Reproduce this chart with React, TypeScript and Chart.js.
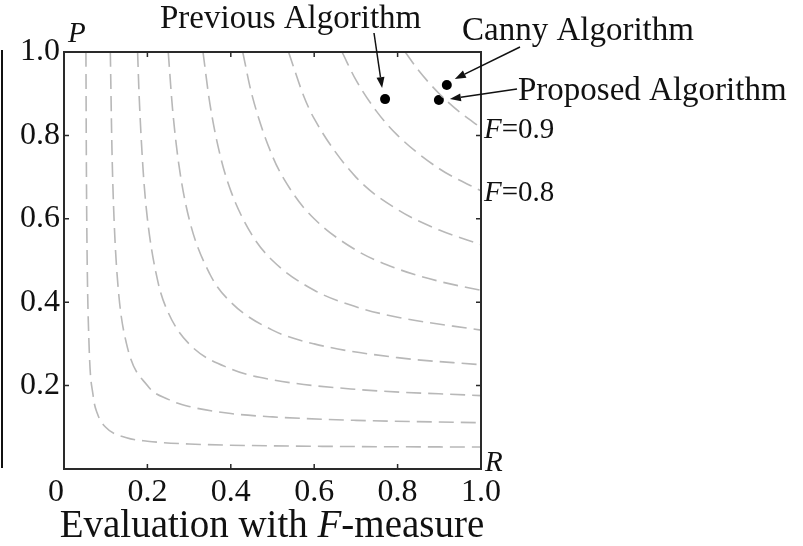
import React, { useEffect, useRef } from "react";
import { Chart, registerables } from "chart.js";

Chart.register(...registerables);

// Iso-F curves, points read as [recall, precision]
const isoF01 = [[0.0526, 1.0], [0.0535, 0.764], [0.055, 0.55], [0.06, 0.3], [0.07, 0.175], [0.08, 0.133], [0.1, 0.1], [0.15, 0.075], [0.2, 0.0667], [0.3, 0.06], [0.5, 0.0556], [0.7, 0.0538], [1.0, 0.0526]];
const isoF02 = [[0.1111, 1.0], [0.115, 0.767], [0.12, 0.6], [0.13, 0.433], [0.15, 0.3], [0.2, 0.2], [0.25, 0.167], [0.3, 0.15], [0.4, 0.133], [0.5, 0.125], [0.7, 0.1167], [1.0, 0.111]];
const isoF03 = [[0.1765, 1.0], [0.18, 0.9], [0.19, 0.7125], [0.2, 0.6], [0.225, 0.45], [0.25, 0.375], [0.3, 0.3], [0.4, 0.24], [0.5, 0.214], [0.7, 0.191], [1.0, 0.176]];
const isoF04 = [[0.25, 1.0], [0.26, 0.867], [0.275, 0.733], [0.3, 0.6], [0.35, 0.467], [0.4, 0.4], [0.5, 0.333], [0.6, 0.3], [0.8, 0.267], [1.0, 0.25]];
const isoF05 = [[0.3333, 1.0], [0.35, 0.875], [0.375, 0.75], [0.4, 0.667], [0.45, 0.5625], [0.5, 0.5], [0.6, 0.4286], [0.7, 0.389], [0.8, 0.364], [1.0, 0.333]];
const isoF06 = [[0.4286, 1.0], [0.45, 0.9], [0.5, 0.75], [0.55, 0.66], [0.6, 0.6], [0.7, 0.525], [0.8, 0.48], [0.9, 0.45], [1.0, 0.4286]];
const isoF07 = [[0.5385, 1.0], [0.575, 0.894], [0.6, 0.84], [0.7, 0.7], [0.8, 0.622], [0.9, 0.573], [1.0, 0.538]];
const isoF08 = [[0.6667, 1.0], [0.7, 0.933], [0.75, 0.857], [0.8, 0.8], [0.9, 0.72], [1.0, 0.667]];
const isoF09 = [[0.8182, 1.0], [0.85, 0.956], [0.9, 0.9], [0.95, 0.855], [1.0, 0.818]];
const isoCurves = [isoF01, isoF02, isoF03, isoF04, isoF05, isoF06, isoF07, isoF08, isoF09];

// Algorithms
const algoNames = ["Previous Algorithm", "Canny Algorithm", "Proposed Algorithm"];
const algoRecall = [0.77, 0.918, 0.899];
const algoPrecision = [0.887, 0.921, 0.885];

// Tick values
const tickValues = [0, 0.2, 0.4, 0.6, 0.8, 1.0];
const curveLabels = ["F=0.9", "F=0.8"];
const curveLabelValues = [0.818, 0.667];

const SERIF = '"Liberation Serif", "DejaVu Serif", serif';
const INK = "#111111";

const annotate = {
  id: "annotate",
  afterDatasetsDraw(chart: any) {
    const { ctx, chartArea: a, scales } = chart;
    const xs = scales.x, ys = scales.y;
    ctx.save();
    // frame
    ctx.strokeStyle = "#2a2a2a";
    ctx.lineWidth = 2;
    ctx.strokeRect(a.left, a.top, a.right - a.left, a.bottom - a.top);
    // inward ticks on all four sides
    ctx.lineWidth = 1.5;
    ctx.beginPath();
    tickValues.slice(1, -1).forEach((v) => {
      const px = xs.getPixelForValue(v);
      ctx.moveTo(px, a.bottom); ctx.lineTo(px, a.bottom - 5);
      ctx.moveTo(px, a.top); ctx.lineTo(px, a.top + 5);
      const py = ys.getPixelForValue(v);
      ctx.moveTo(a.left, py); ctx.lineTo(a.left + 5, py);
      ctx.moveTo(a.right, py); ctx.lineTo(a.right - 5, py);
    });
    ctx.stroke();
    ctx.restore();
  },
  afterDraw(chart: any) {
    const { ctx, chartArea: a, scales } = chart;
    const xs = scales.x, ys = scales.y;
    ctx.save();
    ctx.fillStyle = INK;
    ctx.strokeStyle = INK;

    // left cropped line
    ctx.lineWidth = 2;
    ctx.beginPath();
    ctx.moveTo(2, a.top - 2);
    ctx.lineTo(2, a.bottom - 1);
    ctx.stroke();

    // axis letters
    ctx.textBaseline = "alphabetic";
    ctx.textAlign = "left";
    ctx.font = `italic 29px ${SERIF}`;
    ctx.fillText("P", a.left + 4, a.top - 10);
    ctx.fillText("R", a.right + 4, a.bottom + 2);

    // F labels
    curveLabels.forEach((lab, i) => {
      const y = ys.getPixelForValue(curveLabelValues[i]) + 10;
      ctx.font = `italic 29px ${SERIF}`;
      ctx.fillText(lab.slice(0, 1), a.right + 3, y);
      const w = ctx.measureText(lab.slice(0, 1)).width;
      ctx.font = `29px ${SERIF}`;
      ctx.fillText(lab.slice(1), a.right + 3 + w, y);
    });

    // algorithm labels and arrows
    ctx.font = `33px ${SERIF}`;
    const labelPos = [[160, 28], [462, 40], [518, 100]];
    algoNames.forEach((n, i) => ctx.fillText(n, labelPos[i][0], labelPos[i][1]));

    const arrow = (x1: number, y1: number, x2: number, y2: number) => {
      const ang = Math.atan2(y2 - y1, x2 - x1);
      const hl = 11, hw = 4;
      const bx = x2 - hl * Math.cos(ang), by = y2 - hl * Math.sin(ang);
      ctx.lineWidth = 1.5;
      ctx.beginPath();
      ctx.moveTo(x1, y1);
      ctx.lineTo(bx, by);
      ctx.stroke();
      ctx.beginPath();
      ctx.moveTo(x2, y2);
      ctx.lineTo(bx + hw * Math.sin(ang), by - hw * Math.cos(ang));
      ctx.lineTo(bx - hw * Math.sin(ang), by + hw * Math.cos(ang));
      ctx.closePath();
      ctx.fill();
    };
    const px = (i: number) => xs.getPixelForValue(algoRecall[i]);
    const py = (i: number) => ys.getPixelForValue(algoPrecision[i]);
    arrow(374, 33, px(0) - 3, py(0) - 11);
    arrow(520, 47, px(1) + 8, py(1) - 6);
    arrow(517, 89, px(2) + 11, py(2) - 1);

    // x axis title with italic F
    const parts: [string, boolean][] = [["Evaluation with ", false], ["F", true], ["-measure", false]];
    const fs = 39;
    let total = 0;
    parts.forEach(([t, it]) => {
      ctx.font = `${it ? "italic " : ""}${fs}px ${SERIF}`;
      total += ctx.measureText(t).width;
    });
    let x = 272 - total / 2;
    parts.forEach(([t, it]) => {
      ctx.font = `${it ? "italic " : ""}${fs}px ${SERIF}`;
      ctx.fillText(t, x, 537);
      x += ctx.measureText(t).width;
    });
    ctx.restore();
  },
};

export default function App() {
  const ref = useRef<HTMLCanvasElement>(null);
  useEffect(() => {
    document.body.style.margin = "0";
    const datasets: any[] = isoCurves.map((c) => ({
      data: c.map(([r, p]) => ({ x: r, y: p })),
      showLine: true,
      borderColor: "#b8b8b8",
      borderWidth: 1.6,
      borderDash: [15, 7],
      pointRadius: 0,
      cubicInterpolationMode: "monotone",
      fill: false,
    }));
    datasets.push({
      data: algoRecall.map((r, i) => ({ x: r, y: algoPrecision[i] })),
      showLine: false,
      pointRadius: 5,
      pointBackgroundColor: "#000",
      pointBorderColor: "#000",
      pointBorderWidth: 0,
    });
    const chart = new Chart(ref.current as HTMLCanvasElement, {
      type: "scatter",
      data: { datasets },
      plugins: [annotate],
      options: {
        animation: false,
        responsive: true,
        maintainAspectRatio: false,
        layout: { padding: { top: 52, right: 322, left: 0, bottom: 0 } },
        plugins: { legend: { display: false }, tooltip: { enabled: false } },
        scales: {
          x: {
            type: "linear",
            min: 0,
            max: 1,
            afterFit: (s: any) => { s.height = 77; },
            afterBuildTicks: (s: any) => { s.ticks = tickValues.map((v) => ({ value: v })); },
            grid: { display: false, drawTicks: false },
            border: { display: false },
            ticks: {
              autoSkip: false,
              maxRotation: 0,
              padding: 4,
              color: INK,
              font: { family: SERIF, size: 32 },
              callback: (v: any) => (Number(v) === 0 ? "0  " : Number(v).toFixed(1)),
            },
          },
          y: {
            type: "linear",
            min: 0,
            max: 1,
            afterFit: (s: any) => { s.width = 64; },
            afterBuildTicks: (s: any) => { s.ticks = tickValues.map((v) => ({ value: v })); },
            grid: { display: false, drawTicks: false },
            border: { display: false },
            ticks: {
              autoSkip: false,
              padding: 4,
              color: INK,
              font: { family: SERIF, size: 32 },
              callback: (v: any) => (Number(v) === 0 ? "" : Number(v).toFixed(1)),
            },
          },
        },
      },
    });
    return () => chart.destroy();
  }, []);
  return (
    <div style={{ position: "fixed", left: 0, top: 0, width: 803, height: 546, background: "#fff" }}>
      <canvas ref={ref} />
    </div>
  );
}
